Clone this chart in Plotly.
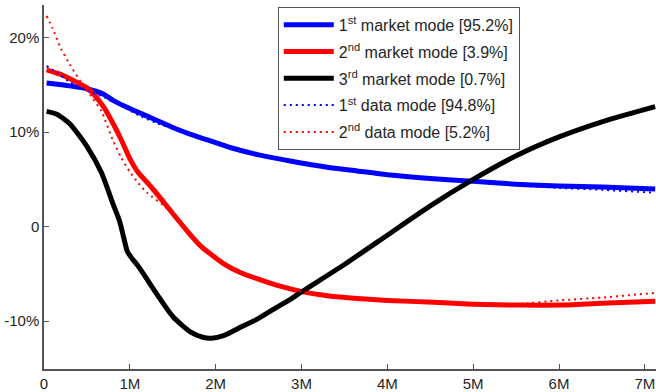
import plotly.graph_objects as go

# ---- data (x in millions, y in %) ----
blue_mkt_x = [0.03, 0.3, 0.5, 0.7, 0.8, 1.0, 1.25, 1.5, 1.7, 2.0, 2.2, 2.5, 2.9, 3.3, 3.65, 4.0, 4.5, 5.0, 5.5, 6.0, 6.5, 7.12]
blue_mkt_y = [15.2, 14.9, 14.6, 14.0, 13.4, 12.5, 11.5, 10.5, 9.8, 8.9, 8.3, 7.6, 6.9, 6.3, 5.9, 5.5, 5.1, 4.8, 4.5, 4.3, 4.2, 4.0]

blue_dat_x = [0.03, 0.15, 0.3, 0.5, 0.7, 0.9, 1.1, 1.3, 1.5, 1.7, 2.0, 2.2, 2.5, 2.9, 3.3, 3.65, 4.0, 4.5, 5.0, 5.5, 6.0, 6.5, 7.12]
blue_dat_y = [17.0, 16.3, 15.3, 14.4, 13.7, 12.8, 11.8, 11.0, 10.4, 9.8, 8.9, 8.3, 7.6, 6.9, 6.3, 5.9, 5.5, 5.1, 4.8, 4.4, 4.1, 3.9, 3.6]

red_mkt_x = [0.03, 0.2, 0.4, 0.5, 0.6, 0.7, 0.8, 0.9, 1.0, 1.1, 1.25, 1.5, 1.7, 1.82, 2.09, 2.3, 2.48, 2.75, 3.02, 3.3, 3.65, 4.0, 4.54, 5.0, 5.52, 6.0, 6.5, 7.12]
red_mkt_y = [16.6, 16.1, 15.2, 14.7, 13.8, 12.6, 11.0, 9.2, 7.2, 5.7, 4.2, 1.4, -0.8, -2.0, -3.9, -4.9, -5.5, -6.3, -6.9, -7.3, -7.6, -7.8, -8.0, -8.2, -8.3, -8.3, -8.1, -7.9]

red_dat_x = [0.03, 0.1, 0.2, 0.3, 0.43, 0.55, 0.67, 0.8, 0.9, 1.0, 1.1, 1.2, 1.4, 1.5, 1.7, 1.82, 2.09, 2.3, 2.48, 2.75, 3.02, 3.3, 3.65, 4.0, 4.54, 5.0, 5.5, 6.0, 6.5, 7.12]
red_dat_y = [22.3, 21.0, 18.8, 17.2, 15.3, 13.8, 12.2, 9.2, 7.3, 5.8, 4.6, 3.6, 2.2, 1.4, -0.8, -2.0, -3.9, -4.9, -5.5, -6.3, -6.9, -7.3, -7.6, -7.8, -8.0, -8.2, -8.2, -7.8, -7.5, -7.0]

black_x = [0.03, 0.15, 0.3, 0.5, 0.67, 0.8, 0.88, 0.93, 0.97, 1.02, 1.1, 1.26, 1.5, 1.7, 1.85, 1.95, 2.1, 2.3, 2.5, 2.7, 2.85, 3.0, 3.5, 4.0, 4.5, 5.0, 5.5, 6.0, 6.5, 7.12]
black_y = [12.2, 11.9, 10.9, 8.5, 5.7, 2.5, 0.6, -1.2, -2.6, -3.3, -4.2, -6.4, -9.5, -11.1, -11.7, -11.8, -11.5, -10.6, -9.7, -8.6, -7.8, -6.9, -4.0, -0.9, 2.2, 5.0, 7.5, 9.5, 11.1, 12.7]

names = [
    "1<sup>st</sup> market mode [95.2%]",
    "2<sup>nd</sup> market mode [3.9%]",
    "3<sup>rd</sup> market mode [0.7%]",
    "1<sup>st</sup> data mode [94.8%]",
    "2<sup>nd</sup> data mode [5.2%]",
]

x_tickvals = [0, 1, 2, 3, 4, 5, 6, 7]
x_ticktext = ["0", "1M", "2M", "3M", "4M", "5M", "6M", "7M"]
y_tickvals = [-10, 0, 10, 20]
y_ticktext = ["-10%", "0", "10%", "20%"]

fig = go.Figure()
series = [
    (blue_mkt_x, blue_mkt_y, "#0000FF", 5, "solid"),
    (red_mkt_x, red_mkt_y, "#FF0000", 5, "solid"),
    (black_x, black_y, "#000000", 5, "solid"),
    (blue_dat_x, blue_dat_y, "#0000FF", 2, "2px,4px"),
    (red_dat_x, red_dat_y, "#FF0000", 2, "2px,4px"),
]
for i, (xs, ys, c, w, d) in enumerate(series):
    fig.add_trace(go.Scatter(
        x=xs, y=ys, mode="lines", name=names[i], legendgroup=str(i),
        line=dict(color=c, width=w, dash=d, shape="spline", smoothing=0.6),
    ))

font = "Liberation Sans, Arial, sans-serif"
fig.update_layout(
    width=656, height=392,
    margin=dict(l=44, r=0, t=5, b=23),
    paper_bgcolor="white", plot_bgcolor="white",
    font=dict(family=font, size=15, color="#262626"),
    showlegend=True,
    legend=dict(
        x=0.382, y=0.995, xanchor="left", yanchor="top",
        bgcolor="white", bordercolor="#555555", borderwidth=1,
        font=dict(family=font, size=16, color="#262626"),
        traceorder="grouped", tracegroupgap=3, itemwidth=50,
    ),
    xaxis=dict(
        range=[0, 7.13], tickvals=x_tickvals, ticktext=x_ticktext,
        showline=True, linecolor="#555555", linewidth=1.5,
        ticks="inside", ticklen=5, tickcolor="#555555",
        showgrid=False, zeroline=False,
    ),
    yaxis=dict(
        range=[-15.06, 23.46], tickvals=y_tickvals, ticktext=y_ticktext,
        showline=True, linecolor="#555555", linewidth=1.5,
        ticks="inside", ticklen=5, tickcolor="#555555",
        showgrid=False, zeroline=False,
    ),
)

fig.write_html("out.html")
